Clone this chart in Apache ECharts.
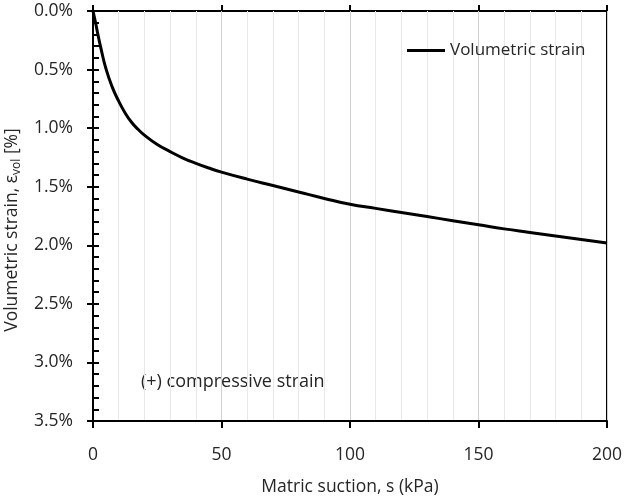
<!DOCTYPE html>
<html>
<head>
<meta charset="utf-8">
<script src="https://cdn.jsdelivr.net/npm/echarts@6/dist/echarts.min.js"></script>
<style>html,body{margin:0;padding:0;background:#fff;}#c{width:625px;height:499px;}</style>
</head>
<body>
<div id="c"></div>
<script>
const suction = [0, 1, 2, 3, 5, 7.5, 10, 12.5, 15, 17.5, 20, 25, 30, 35, 40, 45, 50, 60, 70, 80, 90, 100, 110, 120, 130, 140, 150, 160, 170, 180, 190, 200];
const strain = [0, 0.10, 0.21, 0.31, 0.49, 0.65, 0.77, 0.87, 0.95, 1.01, 1.06, 1.14, 1.20, 1.255, 1.30, 1.34, 1.375, 1.435, 1.49, 1.545, 1.60, 1.65, 1.685, 1.72, 1.755, 1.79, 1.825, 1.86, 1.89, 1.92, 1.95, 1.98];
const seriesName = 'Volumetric strain';
const xTitle = 'Matric suction, s (kPa)';
const note = '(+) compressive strain';

const FONT = '"Open Sans", sans-serif';
const TXT = '#262626';
const chart = echarts.init(document.getElementById('c'), null, {renderer: 'canvas'});
const data = suction.map((s, i) => [s, strain[i]]);
const axisLine = {show: true, onZero: false, lineStyle: {color: '#000', width: 2}};

chart.setOption({
  animation: false,
  backgroundColor: '#fff',
  textStyle: {fontFamily: FONT},
  grid: {left: 93, right: 18, top: 11, bottom: 78, show: true, borderColor: '#000', borderWidth: 2,
    backgroundColor: 'transparent', containLabel: false, outerBoundsMode: 'none'},
  legend: {
    left: 402, top: 37, itemWidth: 38, itemHeight: 3, itemGap: 5,
    icon: 'rect',
    data: [{name: seriesName}],
    itemStyle: {color: '#000'},
    textStyle: {fontFamily: FONT, fontSize: 17, color: TXT}
  },
  xAxis: [{
    type: 'value', min: 0, max: 200, interval: 50,
    name: xTitle, nameLocation: 'middle', nameGap: 57,
    nameTextStyle: {fontFamily: FONT, fontSize: 17.5, color: TXT},
    axisLine: axisLine,
    axisTick: {show: true, inside: false, length: 7, lineStyle: {color: '#000', width: 2}},
    axisLabel: {fontFamily: FONT, fontSize: 17.5, color: TXT, margin: 25},
    splitLine: {show: true, lineStyle: {color: '#d0d0d0', width: 1}},
    minorTick: {show: false, splitNumber: 5},
    minorSplitLine: {show: true, lineStyle: {color: '#e8e8e8', width: 1}}
  }, {
    type: 'value', min: 0, max: 200, interval: 50, position: 'bottom',
    axisLine: {show: false},
    axisTick: {show: true, inside: true, length: 6, lineStyle: {color: '#000', width: 2}},
    axisLabel: {show: false}, splitLine: {show: false}
  }],
  yAxis: [{
    type: 'value', inverse: true, min: 0, max: 3.5, interval: 0.5,
    name: 'Volumetric strain, ε{s|vol} [%]', nameLocation: 'middle', nameGap: 60,
    nameTextStyle: {fontFamily: FONT, fontSize: 17.5, color: TXT, padding: [0, 28, 0, 0],
      rich: {s: {fontFamily: FONT, fontSize: 12, color: TXT, padding: [10, 0, 0, 0]}}},
    axisLine: axisLine,
    axisTick: {show: true, inside: false, length: 6, lineStyle: {color: '#000', width: 2}},
    axisLabel: {fontFamily: FONT, fontSize: 17.5, color: TXT, margin: 20,
      formatter: v => v.toFixed(1) + '%'},
    splitLine: {show: false}
  }, {
    type: 'value', inverse: true, min: 0, max: 3.5, interval: 0.5, position: 'left',
    axisLine: {show: false},
    axisTick: {show: true, inside: true, length: 6, lineStyle: {color: '#000', width: 2}},
    minorTick: {show: true, splitNumber: 5, length: 6, lineStyle: {color: '#000', width: 2}},
    axisLabel: {show: false}, splitLine: {show: false}
  }],
  graphic: [{
    type: 'text', left: 141, top: 373,
    style: {text: note, font: '18px ' + FONT, fill: TXT}
  }],
  series: [{
    name: seriesName, type: 'line', data: data, smooth: true,
    symbol: 'none', xAxisIndex: 0, yAxisIndex: 0,
    lineStyle: {color: '#000', width: 3}, itemStyle: {color: '#000'}
  }]
});
</script>
</body>
</html>
